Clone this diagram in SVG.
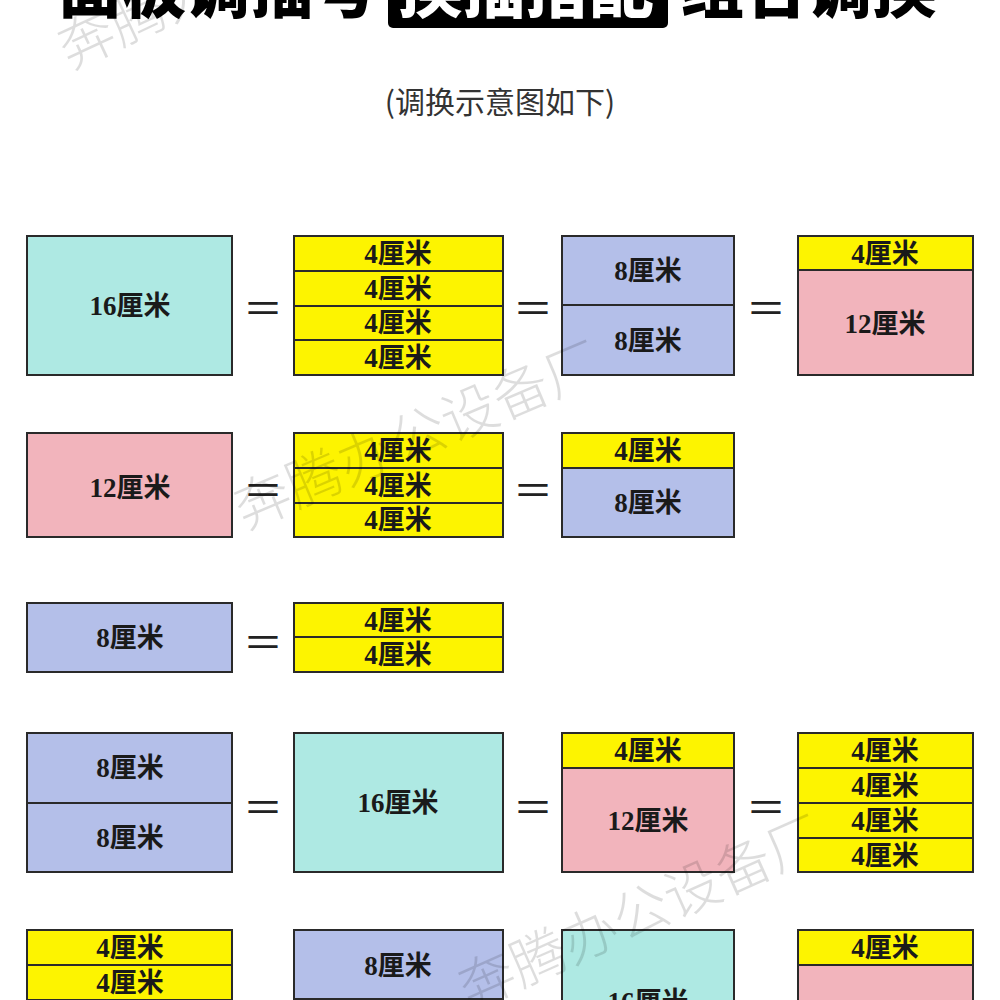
<svg xmlns="http://www.w3.org/2000/svg" width="1000" height="1000" viewBox="0 0 1000 1000">
<style>
.bx{stroke:#2a2a2a;stroke-width:2}
.c{fill:#aee9e3}.y{fill:#fdf400}.b{fill:#b4bfe9}.p{fill:#f2b4bc}
.t{font-family:"Liberation Serif","Noto Sans CJK SC",serif;font-weight:bold;font-size:27px;fill:#1a1a1a;text-anchor:middle;dominant-baseline:central}
.eq{font-family:"Noto Sans CJK SC",sans-serif;font-size:40px;fill:#222;text-anchor:middle;dominant-baseline:central}
.wm{font-family:"Noto Sans CJK SC",sans-serif;font-weight:300;font-size:56px;fill:#000;opacity:0.13}
.ti{font-family:"Noto Sans CJK SC",sans-serif;font-weight:900;font-size:64px;fill:#000}
</style>
<rect width="1000" height="1000" fill="#fff"/>
<!-- title (cut off at top, as in the picture) -->
<g id="title">
<text class="ti" x="58" y="12">面板调插号</text>
<rect x="388" y="-20" width="280" height="48" rx="5" fill="#000"/>
<text class="ti" x="398" y="12" style="fill:#fff">换插搭配</text>
<text class="ti" x="680" y="12">组合调换</text>
</g>
<text id="subtitle" x="500" y="100" style="font-family:'Noto Sans CJK SC',sans-serif;font-size:30px;fill:#333;text-anchor:middle;dominant-baseline:central">(调换示意图如下)</text>

<!-- Row 1 -->
<g id="r1a"><rect class="bx c" x="27" y="236" width="205" height="139"/><text class="t" x="130" y="306">16厘米</text></g>
<g id="r1b">
<rect class="bx y" x="294" y="236" width="209" height="35"/><text class="t" x="398" y="254">4厘米</text>
<rect class="bx y" x="294" y="271" width="209" height="35"/><text class="t" x="398" y="289">4厘米</text>
<rect class="bx y" x="294" y="306" width="209" height="34"/><text class="t" x="398" y="323">4厘米</text>
<rect class="bx y" x="294" y="340" width="209" height="35"/><text class="t" x="398" y="358">4厘米</text>
</g>
<g id="r1c">
<rect class="bx b" x="562" y="236" width="172" height="69"/><text class="t" x="648" y="271">8厘米</text>
<rect class="bx b" x="562" y="305" width="172" height="70"/><text class="t" x="648" y="341">8厘米</text>
</g>
<g id="r1d">
<rect class="bx y" x="798" y="236" width="175" height="34"/><text class="t" x="885" y="254">4厘米</text>
<rect class="bx p" x="798" y="270" width="175" height="105"/><text class="t" x="885" y="324">12厘米</text>
</g>
<text class="eq" x="263" y="306">＝</text>
<text class="eq" x="533" y="306">＝</text>
<text class="eq" x="766" y="306">＝</text>

<!-- Row 2 -->
<g id="r2a"><rect class="bx p" x="27" y="433" width="205" height="104"/><text class="t" x="130" y="488">12厘米</text></g>
<g id="r2b">
<rect class="bx y" x="294" y="433" width="209" height="35"/><text class="t" x="398" y="451">4厘米</text>
<rect class="bx y" x="294" y="468" width="209" height="35"/><text class="t" x="398" y="486">4厘米</text>
<rect class="bx y" x="294" y="503" width="209" height="34"/><text class="t" x="398" y="520">4厘米</text>
</g>
<g id="r2c">
<rect class="bx y" x="562" y="433" width="172" height="35"/><text class="t" x="648" y="451">4厘米</text>
<rect class="bx b" x="562" y="468" width="172" height="69"/><text class="t" x="648" y="503">8厘米</text>
</g>
<text class="eq" x="263" y="488">＝</text>
<text class="eq" x="533" y="488">＝</text>

<!-- Row 3 -->
<g id="r3a"><rect class="bx b" x="27" y="603" width="205" height="69"/><text class="t" x="130" y="638">8厘米</text></g>
<g id="r3b">
<rect class="bx y" x="294" y="603" width="209" height="34"/><text class="t" x="398" y="621">4厘米</text>
<rect class="bx y" x="294" y="637" width="209" height="35"/><text class="t" x="398" y="655">4厘米</text>
</g>
<text class="eq" x="263" y="640">＝</text>

<!-- Row 4 -->
<g id="r4a">
<rect class="bx b" x="27" y="733" width="205" height="70"/><text class="t" x="130" y="768">8厘米</text>
<rect class="bx b" x="27" y="803" width="205" height="69"/><text class="t" x="130" y="838">8厘米</text>
</g>
<g id="r4b"><rect class="bx c" x="294" y="733" width="209" height="139"/><text class="t" x="398" y="803">16厘米</text></g>
<g id="r4c">
<rect class="bx y" x="562" y="733" width="172" height="35"/><text class="t" x="648" y="751">4厘米</text>
<rect class="bx p" x="562" y="768" width="172" height="104"/><text class="t" x="648" y="821">12厘米</text>
</g>
<g id="r4d">
<rect class="bx y" x="798" y="733" width="175" height="35"/><text class="t" x="885" y="751">4厘米</text>
<rect class="bx y" x="798" y="768" width="175" height="35"/><text class="t" x="885" y="786">4厘米</text>
<rect class="bx y" x="798" y="803" width="175" height="35"/><text class="t" x="885" y="821">4厘米</text>
<rect class="bx y" x="798" y="838" width="175" height="34"/><text class="t" x="885" y="856">4厘米</text>
</g>
<text class="eq" x="263" y="805">＝</text>
<text class="eq" x="533" y="805">＝</text>
<text class="eq" x="766" y="805">＝</text>

<!-- Row 5 (cut off at the bottom, as in the picture) -->
<g id="r5a">
<rect class="bx y" x="27" y="930" width="205" height="35"/><text class="t" x="130" y="948">4厘米</text>
<rect class="bx y" x="27" y="965" width="205" height="35"/><text class="t" x="130" y="983">4厘米</text>
<rect class="bx y" x="27" y="1000" width="205" height="35"/>
</g>
<g id="r5b">
<rect class="bx b" x="294" y="930" width="209" height="69"/><text class="t" x="398" y="966">8厘米</text>
<rect class="bx b" x="294" y="999" width="209" height="70"/>
</g>
<g id="r5c"><rect class="bx c" x="562" y="930" width="172" height="139"/><text class="t" x="648" y="1002">16厘米</text></g>
<g id="r5d">
<rect class="bx y" x="798" y="930" width="175" height="35"/><text class="t" x="885" y="948">4厘米</text>
<rect class="bx p" x="798" y="965" width="175" height="105"/>
</g>
<text class="eq" x="263" y="1004">＝</text>
<text class="eq" x="533" y="1004">＝</text>
<text class="eq" x="766" y="1004">＝</text>

<!-- watermarks -->
<g id="watermarks">
<text class="wm" transform="translate(70,70) rotate(-25)">奔腾办公设备厂</text>
<text class="wm" transform="translate(245,530) rotate(-23)">奔腾办公设备厂</text>
<text class="wm" transform="translate(470,1010) rotate(-24)">奔腾办公设备厂</text>
</g>
</svg>
